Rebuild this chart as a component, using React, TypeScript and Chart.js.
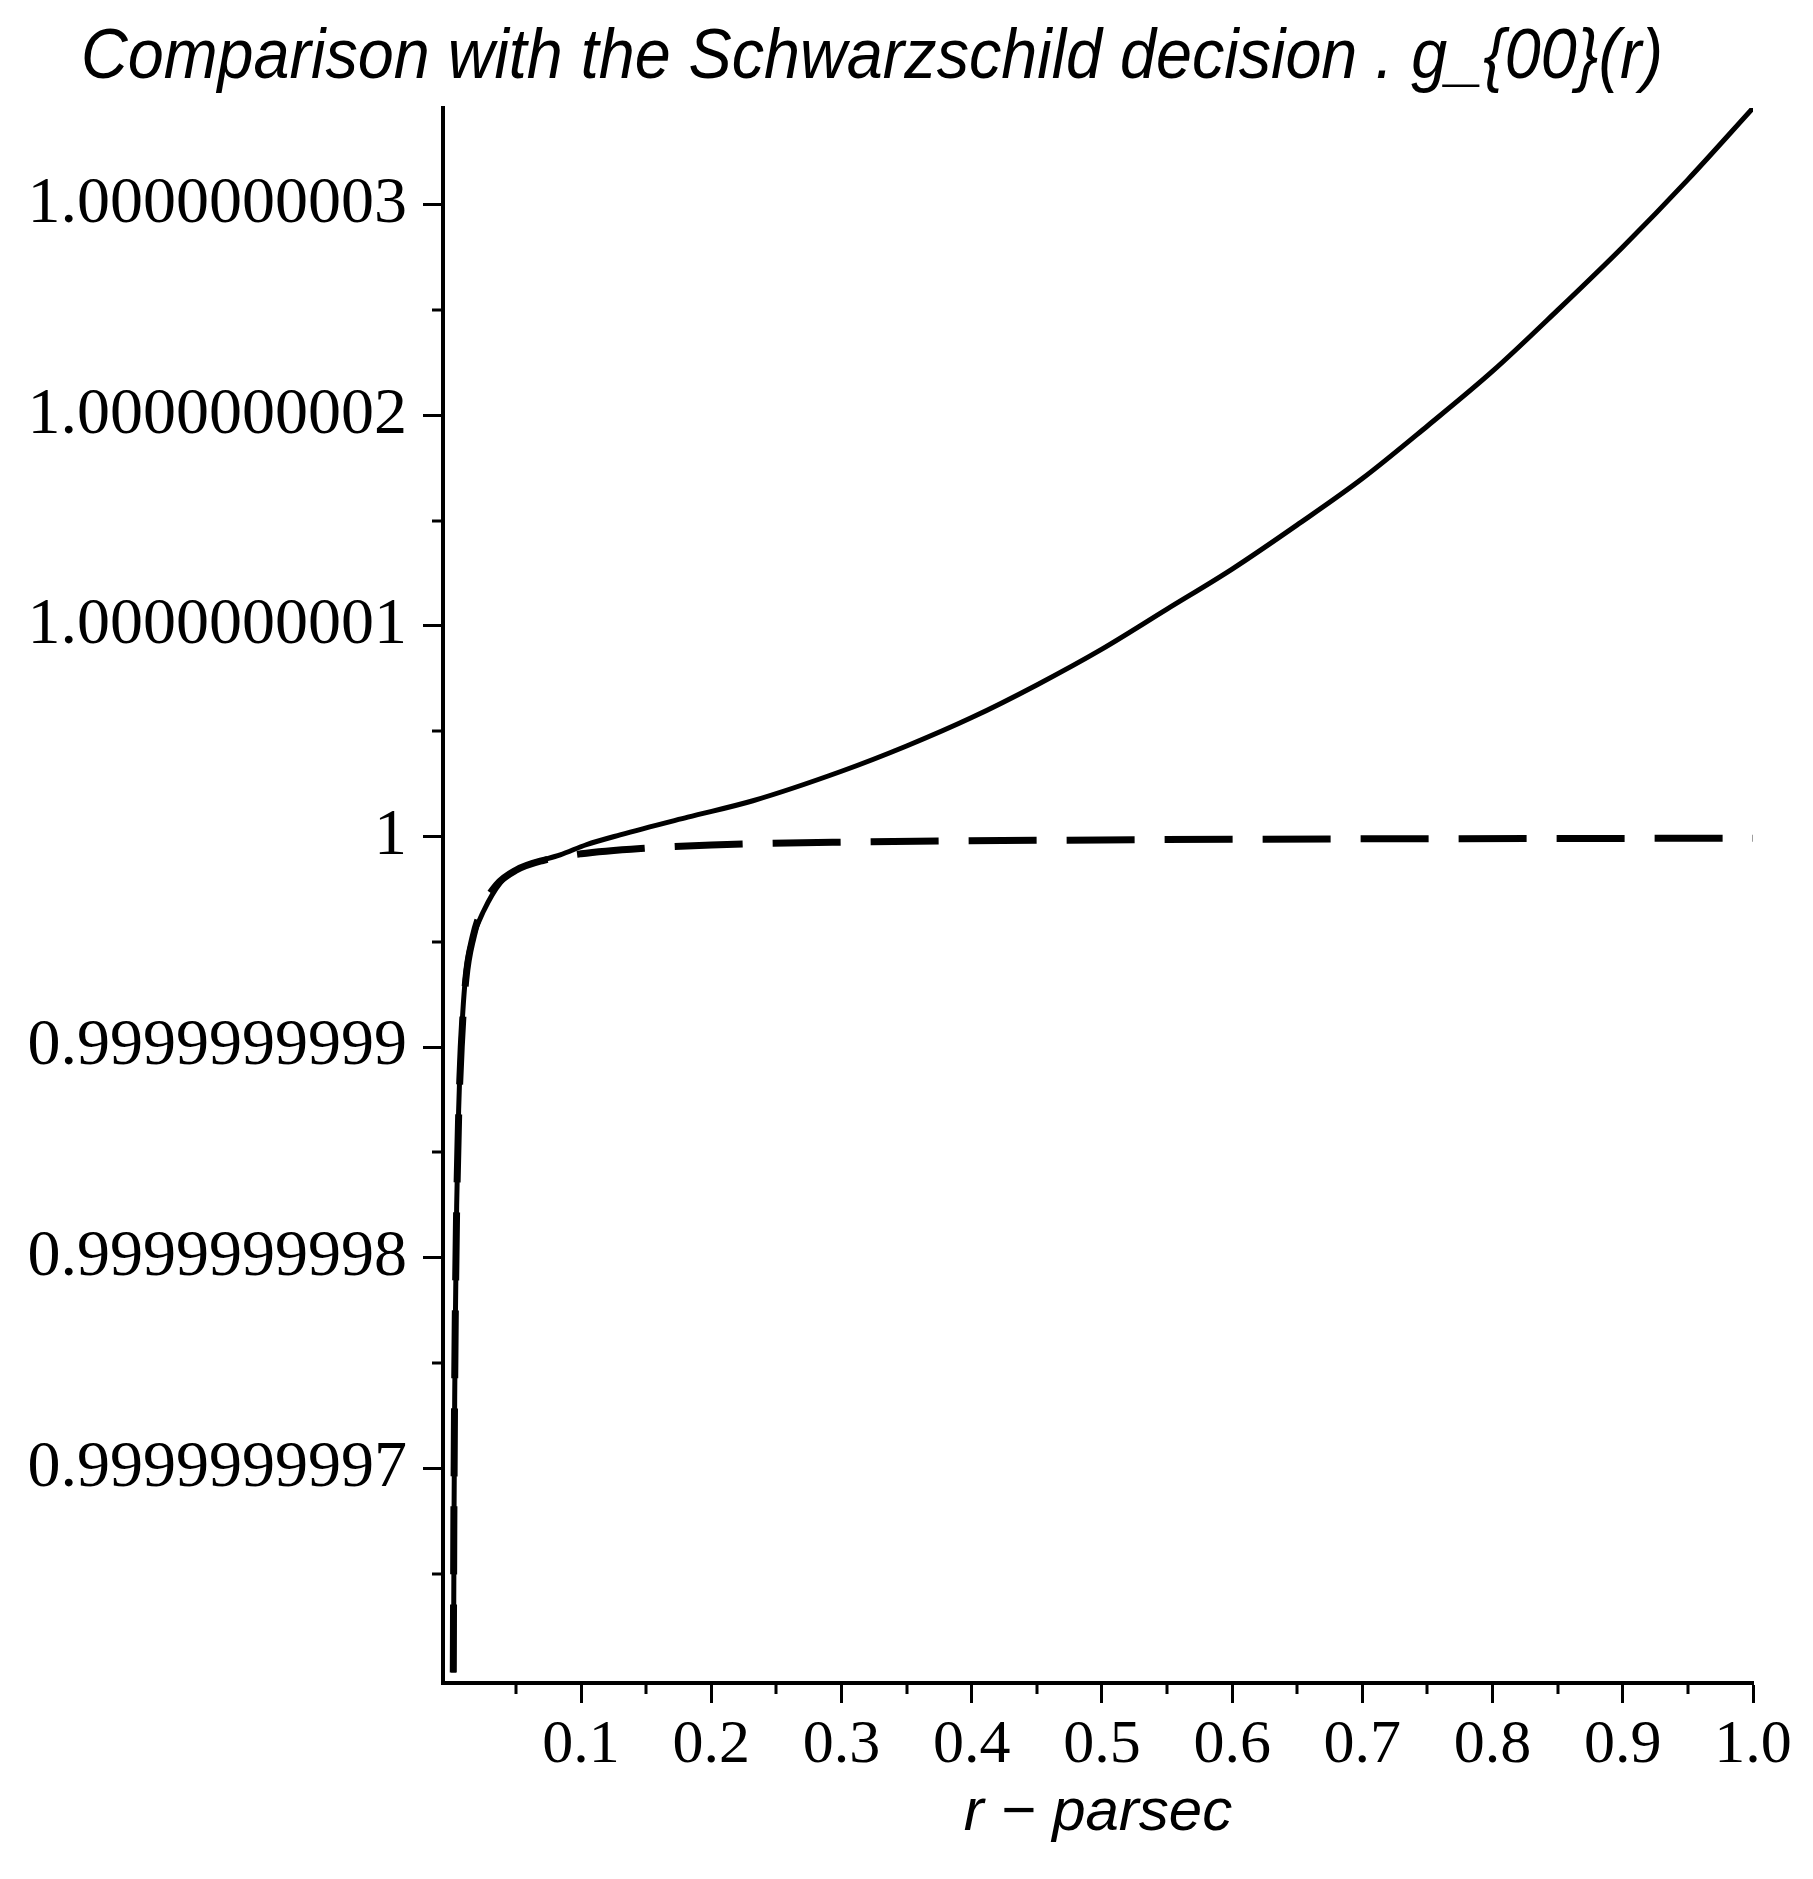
import React, { useEffect, useRef } from "react";
import { Chart, registerables } from "chart.js";

Chart.register(...registerables);

const TITLE = "Comparison with the Schwarzschild decision . g_{00}(r)";
const X_TITLE = "r \u2212 parsec";

// r (parsec) and g_00(r) - 1 in units of 1e-10, solid curve
const solidR = [
  0.0021, 0.0025, 0.003, 0.0035, 0.0045, 0.006, 0.008, 0.0117, 0.017, 0.0255,
  0.038, 0.05, 0.063, 0.084, 0.104, 0.13, 0.182, 0.232, 0.3, 0.35, 0.4,
  0.45, 0.5, 0.55, 0.6, 0.65, 0.7, 0.75, 0.8, 0.85, 0.9, 0.95, 1.0,
];
const solidDelta = [
  -3.97, -3.2, -2.65, -2.3, -1.75, -1.3, -0.97, -0.64, -0.48, -0.35,
  -0.22, -0.16, -0.125, -0.087, -0.039, 0.008, 0.092, 0.17, 0.31, 0.43, 0.565,
  0.72, 0.89, 1.08, 1.27, 1.48, 1.7, 1.95, 2.21, 2.5, 2.8, 3.12, 3.46,
];

// Schwarzschild curve (dashed)
const dashedR = [
  0.0019, 0.0023, 0.0028, 0.0034, 0.0044, 0.006, 0.008, 0.0115, 0.017, 0.025,
  0.035, 0.05, 0.07, 0.1, 0.15, 0.2, 0.3, 0.5, 0.7, 1.0,
];
const dashedDelta = [
  -3.97, -3.3, -2.75, -2.3, -1.8, -1.33, -1.0, -0.68, -0.48, -0.33,
  -0.23, -0.16, -0.115, -0.082, -0.055, -0.04, -0.027, -0.016, -0.011, -0.008,
];

const xTickValues = [0.1, 0.2, 0.3, 0.4, 0.5, 0.6, 0.7, 0.8, 0.9, 1.0];
const xTickLabels = ["0.1", "0.2", "0.3", "0.4", "0.5", "0.6", "0.7", "0.8", "0.9", "1.0"];
const xMinorTicks = [0.05, 0.15, 0.25, 0.35, 0.45, 0.55, 0.65, 0.75, 0.85, 0.95];

const yTickValues = [-3, -2, -1, 0, 1, 2, 3];
const yTickLabels = [
  "0.9999999997", "0.9999999998", "0.9999999999", "1",
  "1.0000000001", "1.0000000002", "1.0000000003",
];
const yMinorTicks = [-3.5, -2.5, -1.5, -0.5, 0.5, 1.5, 2.5];

const X_MIN = -0.006;
const X_MAX = 1.0;
const Y_MIN = -4.02;
const Y_MAX = 3.46;

const minorTicksPlugin = {
  id: "minorTicks",
  afterDraw(chart: any) {
    const { ctx, chartArea, scales } = chart;
    ctx.save();
    ctx.strokeStyle = "#000";
    ctx.lineWidth = 3;
    ctx.beginPath();
    for (const v of xMinorTicks) {
      const px = Math.round(scales.x.getPixelForValue(v));
      ctx.moveTo(px, chartArea.bottom);
      ctx.lineTo(px, chartArea.bottom + 11);
    }
    for (const v of yMinorTicks) {
      const py = Math.round(scales.y.getPixelForValue(v));
      ctx.moveTo(chartArea.left - 11, py);
      ctx.lineTo(chartArea.left, py);
    }
    ctx.stroke();
    ctx.restore();
  },
};

const titlePlugin = {
  id: "condensedTitle",
  afterDraw(chart: any) {
    const { ctx } = chart;
    ctx.save();
    ctx.fillStyle = "#000";
    ctx.font = "italic 70px 'Liberation Sans', Arial, sans-serif";
    ctx.textAlign = "center";
    ctx.textBaseline = "middle";
    ctx.fillText(TITLE, 872, 59, 1582);
    ctx.restore();
  },
};

export default function App() {
  const ref = useRef<HTMLCanvasElement>(null);

  useEffect(() => {
    const canvas = ref.current;
    if (!canvas) return;
    const tickFont = { family: "'Liberation Serif', 'Times New Roman', serif", size: 66 };
    const chart = new Chart(canvas, {
      type: "line",
      data: {
        datasets: [
          {
            label: "g00",
            data: solidR.map((r, i) => ({ x: r, y: solidDelta[i] })),
            borderColor: "#000",
            borderWidth: 5,
            pointRadius: 0,
            fill: false,
            cubicInterpolationMode: "monotone",
          },
          {
            label: "Schwarzschild",
            data: dashedR.map((r, i) => ({ x: r, y: dashedDelta[i] })),
            borderColor: "#000",
            borderWidth: 7,
            borderDash: [68, 30],
            pointRadius: 0,
            fill: false,
            cubicInterpolationMode: "monotone",
          },
        ],
      },
      options: {
        animation: false,
        responsive: false,
        devicePixelRatio: 1,
        events: [],
        layout: { padding: { left: 0, right: 60, top: 108, bottom: 0 } },
        plugins: {
          legend: { display: false },
          title: { display: false },
          tooltip: { enabled: false },
        },
        scales: {
          x: {
            type: "linear",
            min: X_MIN,
            max: X_MAX,
            border: { display: true, color: "#000", width: 4 },
            grid: {
              drawOnChartArea: false,
              drawTicks: true,
              tickLength: 20,
              tickColor: "#000",
              tickWidth: 3,
            },
            ticks: {
              color: "#000",
              font: { ...tickFont, size: 62 },
              padding: 6,
              maxRotation: 0,
              autoSkip: false,
              callback: (value: any) => {
                const i = xTickValues.findIndex((t) => Math.abs(t - value) < 1e-9);
                return i >= 0 ? xTickLabels[i] : "";
              },
            },
            title: {
              display: true,
              text: X_TITLE,
              color: "#000",
              font: { family: "'Liberation Sans', Arial, sans-serif", style: "italic", size: 60 },
              padding: { top: 0, bottom: 30 },
            },
            afterBuildTicks: (scale: any) => {
              scale.ticks = xTickValues.map((v) => ({ value: v }));
            },
            afterFit: (scale: any) => {
              scale.height = 196;
            },
          },
          y: {
            type: "linear",
            min: Y_MIN,
            max: Y_MAX,
            border: { display: true, color: "#000", width: 4 },
            grid: {
              drawOnChartArea: false,
              drawTicks: true,
              tickLength: 20,
              tickColor: "#000",
              tickWidth: 3,
            },
            ticks: {
              color: "#000",
              font: tickFont,
              padding: 16,
              autoSkip: false,
              callback: (value: any) => {
                const i = yTickValues.findIndex((t) => Math.abs(t - value) < 1e-9);
                return i >= 0 ? yTickLabels[i] : "";
              },
            },
            afterBuildTicks: (scale: any) => {
              scale.ticks = yTickValues.map((v) => ({ value: v }));
            },
            afterFit: (scale: any) => {
              scale.width = 443;
            },
          },
        },
      },
      plugins: [minorTicksPlugin, titlePlugin],
    } as any);
    return () => chart.destroy();
  }, []);

  return (
    <div
      style={{
        position: "absolute",
        left: 0,
        top: 0,
        width: 1813,
        height: 1879,
        background: "#fff",
      }}
    >
      <canvas
        ref={ref}
        width={1813}
        height={1879}
        style={{ display: "block", width: 1813, height: 1879 }}
      />
    </div>
  );
}
